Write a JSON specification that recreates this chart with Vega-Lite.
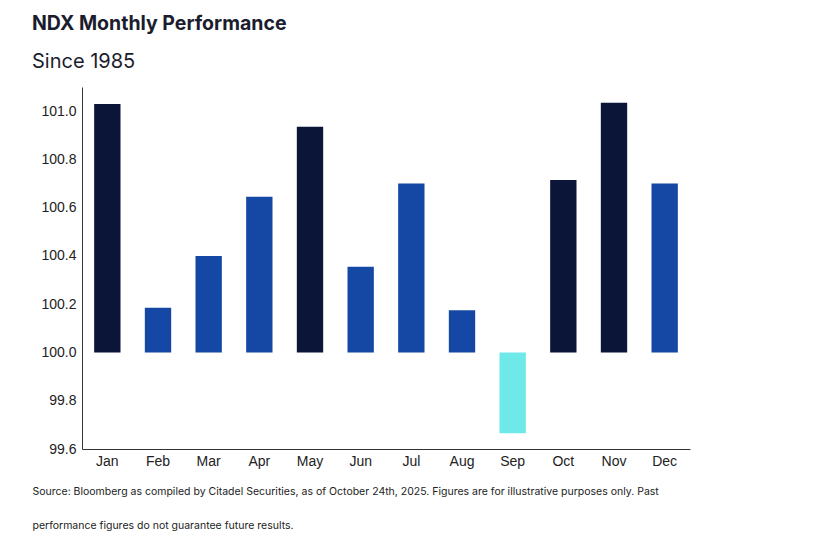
{
  "$schema": "https://vega.github.io/schema/vega-lite/v6.json",
  "autosize": "none",
  "width": 608,
  "height": 362,
  "padding": {"left": 82, "top": 87, "right": 149, "bottom": 94},
  "background": "white",
  "title": {
    "text": "NDX Monthly Performance",
    "subtitle": "Since 1985",
    "anchor": "start",
    "frame": "group",
    "dx": -50,
    "offset": 14,
    "font": "Inter",
    "fontSize": 19.5,
    "fontWeight": "bold",
    "color": "#1b1d2e",
    "subtitleFont": "Inter",
    "subtitleFontSize": 20,
    "subtitleColor": "#1b1d2e",
    "subtitlePadding": 18
  },
  "data": {
    "values": [
      {"month": "Jan", "value": 101.03, "group": "dark"},
      {"month": "Feb", "value": 100.185, "group": "blue"},
      {"month": "Mar", "value": 100.40, "group": "blue"},
      {"month": "Apr", "value": 100.645, "group": "blue"},
      {"month": "May", "value": 100.935, "group": "dark"},
      {"month": "Jun", "value": 100.355, "group": "blue"},
      {"month": "Jul", "value": 100.70, "group": "blue"},
      {"month": "Aug", "value": 100.175, "group": "blue"},
      {"month": "Sep", "value": 99.665, "group": "cyan"},
      {"month": "Oct", "value": 100.715, "group": "dark"},
      {"month": "Nov", "value": 101.035, "group": "dark"},
      {"month": "Dec", "value": 100.70, "group": "blue"}
    ]
  },
  "mark": {"type": "bar"},
  "encoding": {
    "x": {
      "field": "month",
      "type": "ordinal",
      "sort": null,
      "scale": {"paddingInner": 0.48, "paddingOuter": 0.24},
      "axis": {
        "labelAngle": 0,
        "ticks": false,
        "labelPadding": 5,
        "labelFont": "Liberation Sans",
        "labelFontSize": 14,
        "labelColor": "#222222",
        "domainColor": "#333333",
        "title": ["\u00a0Source: Bloomberg as compiled by Citadel Securities, as of October 24th, 2025. Figures are for illustrative purposes only. Past", "performance figures do not guarantee future results."],
        "titleFont": "Inter",
        "titleFontSize": 10.5,
        "titleFontWeight": "normal",
        "titleColor": "#222222",
        "titleLineHeight": 34,
        "titleAnchor": "start",
        "titleAlign": "left",
        "titleX": -50,
        "titleY": 42,
        "titleBaseline": "middle"
      }
    },
    "y": {
      "field": "value",
      "type": "quantitative",
      "scale": {"domain": [99.6, 101.1], "zero": false, "nice": false},
      "axis": {
        "values": [99.6, 99.8, 100.0, 100.2, 100.4, 100.6, 100.8, 101.0],
        "format": ".1f",
        "ticks": false,
        "grid": false,
        "labelPadding": 6,
        "labelFont": "Liberation Sans",
        "labelFontSize": 14,
        "labelColor": "#222222",
        "domainColor": "#333333",
        "title": null
      }
    },
    "y2": {"datum": 100},
    "color": {
      "field": "group",
      "type": "nominal",
      "scale": {"domain": ["dark", "blue", "cyan"], "range": ["#0b1538", "#1448a4", "#6ee8e8"]},
      "legend": null
    }
  },
  "config": {"view": {"stroke": null}}
}
